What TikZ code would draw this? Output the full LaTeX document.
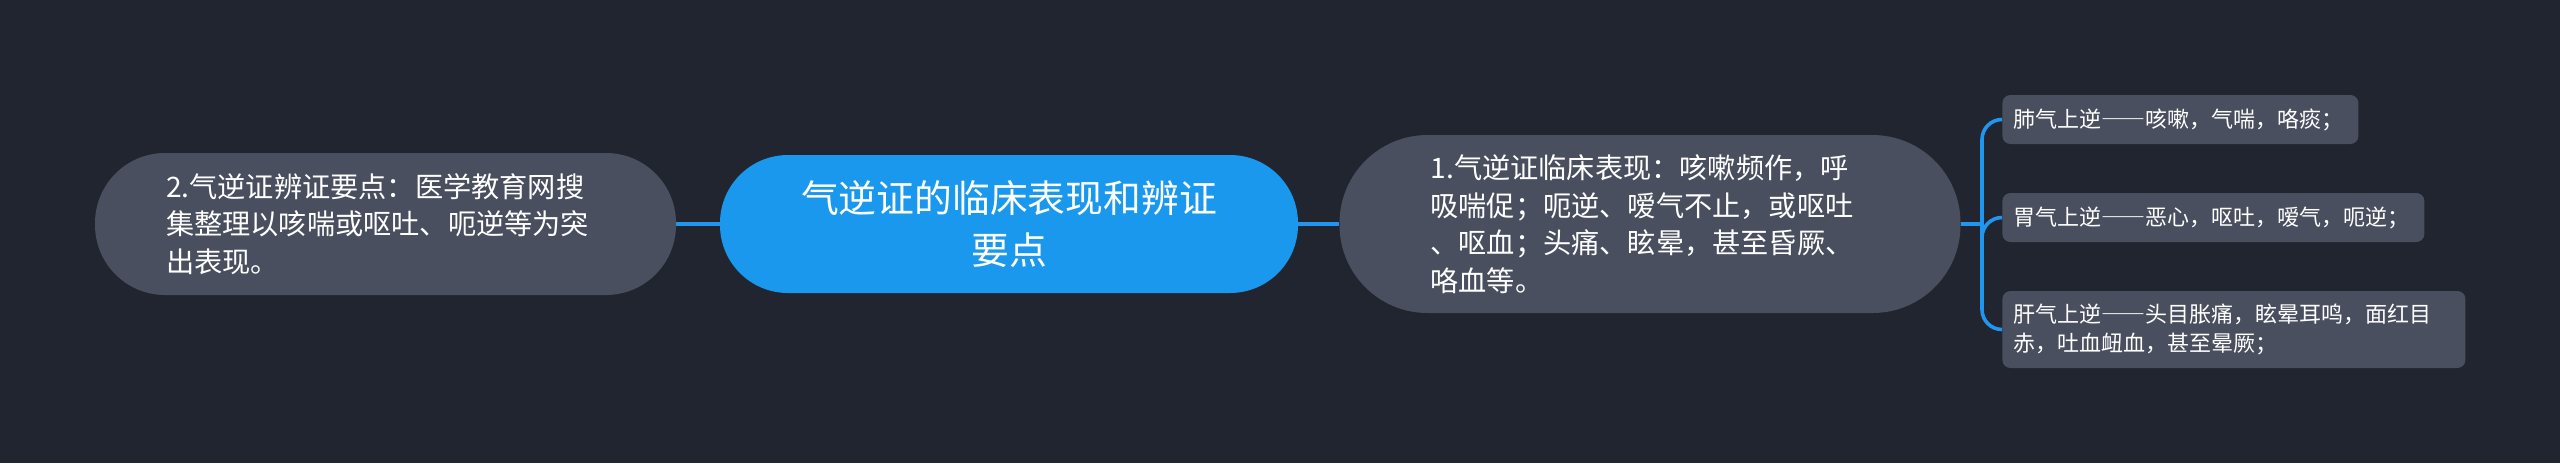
\documentclass[tikz,border=0pt]{standalone}
\usepackage{fontspec}
\setmainfont{Noto Sans CJK SC}
\newfontfamily\fwfont[RawFeature=+fwid]{Noto Sans CJK SC}
\definecolor{bgdark}{HTML}{212530}
\definecolor{boxgray}{HTML}{494F5E}
\definecolor{rootblue}{HTML}{1A98EE}
\definecolor{linkblue}{HTML}{2196F0}

\begin{document}
\begin{tikzpicture}[
        x=0.5pt, y=-0.5pt,
        root/.style={fill=rootblue, text=white, rounded corners=34pt, minimum width=289pt, minimum height=69pt, text width=220pt, align=center, font=\fontsize{18.9}{26}\selectfont},
        topic/.style={fill=boxgray, text=white, text width=219.5pt, align=left, font=\fontsize{14.1}{18.75}\selectfont},
        leaf/.style={fill=boxgray, text=white, rounded corners=4pt, anchor=west, inner xsep=5.5pt, align=left, font=\fontsize{11}{14.5}\selectfont},
        link/.style={draw=linkblue, line width=1.8pt}
    ]
        % Background
        \fill[bgdark] (0,0) rectangle (2560,463);

        % Nodes
        \node[root] (main) at (1009,224) {气逆证的临床表现和辨证\\要点};
        \node[topic, rounded corners=35pt, minimum width=290.5pt, minimum height=71pt] (sum2) at (385.5,224)
            {2.气逆证辨证要点：医学教育网搜\\集整理以咳喘或呕吐、呃逆等为突\\出表现。};
        \node[topic, rounded corners=44pt, minimum width=310.5pt, minimum height=89pt] (sum1) at (1650,224)
            {1.气逆证临床表现：咳嗽频作，呼\\吸喘促；呃逆、嗳气不止，或呕吐\\、呕血；头痛、眩晕，甚至昏厥、\\咯血等。};
        \node[leaf, text width=167pt, minimum height=24.5pt] (lung) at (2002,119.5) {肺气上逆{\fwfont ——}咳嗽，气喘，咯痰；};
        \node[leaf, text width=200pt, minimum height=24.5pt] (stomach) at (2002,217.5) {胃气上逆{\fwfont ——}恶心，呕吐，嗳气，呃逆；};
        \node[leaf, text width=220.5pt, minimum height=38.5pt] (liver) at (2002,329.5)
            {肝气上逆{\fwfont ——}头目胀痛，眩晕耳鸣，面红目\\赤，吐血衄血，甚至晕厥；};
        \coordinate (fork) at (1982,224);

        % Links
        \draw[link] (sum2.east) -- (main.west);
        \draw[link] (main.east) -- (sum1.west);
        \draw[link] (sum1.east) -- (fork);
        \draw[link, rounded corners=10pt] (fork) |- (lung.west);
        \draw[link, rounded corners=10pt] (fork) |- (stomach.west);
        \draw[link, rounded corners=10pt] (fork) |- (liver.west);
    \end{tikzpicture}
\end{document}
